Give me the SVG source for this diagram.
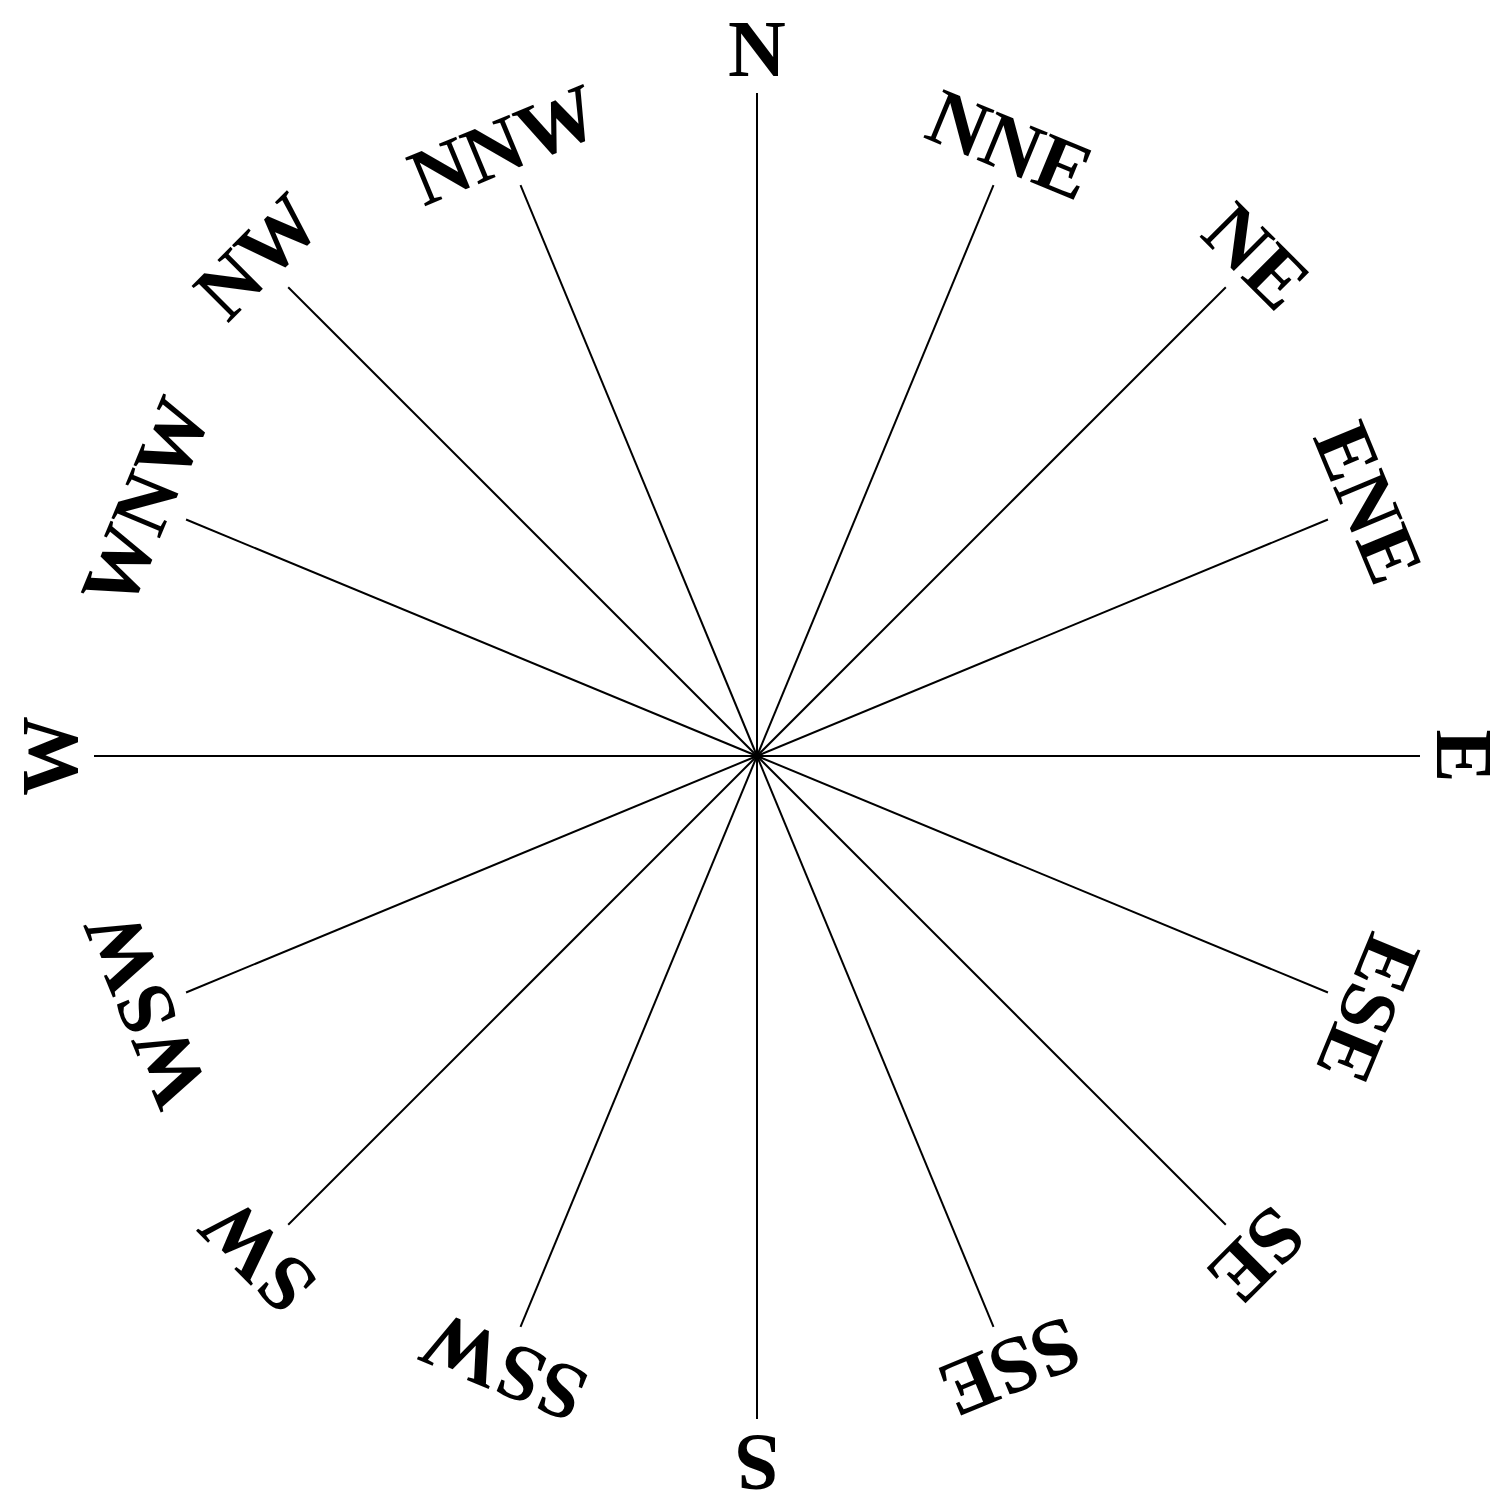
<svg xmlns="http://www.w3.org/2000/svg" width="1511" height="1512" viewBox="0 0 1511 1512">
<style>
.ray{stroke:#000;stroke-width:2;fill:none}
.lbl{font-family:"Liberation Serif","Times New Roman",serif;font-weight:bold;font-size:80px;text-anchor:middle;fill:#000}
</style>
<rect width="1511" height="1512" fill="#fff"/>
<defs>
<line id="r" x1="757" y1="756" x2="757" y2="93" class="ray"/>
<line id="q" x1="757" y1="756" x2="757" y2="138" class="ray"/>
</defs>
<g id="connectors">
<use href="#r" transform="rotate(0 757 756)"/>
<use href="#q" transform="rotate(22.5 757 756)"/>
<use href="#r" transform="rotate(45 757 756)"/>
<use href="#q" transform="rotate(67.5 757 756)"/>
<use href="#r" transform="rotate(90 757 756)"/>
<use href="#q" transform="rotate(112.5 757 756)"/>
<use href="#r" transform="rotate(135 757 756)"/>
<use href="#q" transform="rotate(157.5 757 756)"/>
<use href="#r" transform="rotate(180 757 756)"/>
<use href="#q" transform="rotate(202.5 757 756)"/>
<use href="#r" transform="rotate(225 757 756)"/>
<use href="#q" transform="rotate(247.5 757 756)"/>
<use href="#r" transform="rotate(270 757 756)"/>
<use href="#q" transform="rotate(292.5 757 756)"/>
<use href="#r" transform="rotate(315 757 756)"/>
<use href="#q" transform="rotate(337.5 757 756)"/>
</g>
<g id="N" transform="rotate(0 757 756)"><text class="lbl" x="757" y="76">N</text></g>
<g id="NNE" transform="rotate(22.5 757 756)"><text class="lbl" x="757" y="121">NNE</text></g>
<g id="NE" transform="rotate(45 757 756)"><text class="lbl" x="757" y="76">NE</text></g>
<g id="ENE" transform="rotate(67.5 757 756)"><text class="lbl" x="757" y="121">ENE</text></g>
<g id="E" transform="rotate(90 757 756)"><text class="lbl" x="757" y="76">E</text></g>
<g id="ESE" transform="rotate(112.5 757 756)"><text class="lbl" x="757" y="121">ESE</text></g>
<g id="SE" transform="rotate(135 757 756)"><text class="lbl" x="757" y="76">SE</text></g>
<g id="SSE" transform="rotate(157.5 757 756)"><text class="lbl" x="757" y="121">SSE</text></g>
<g id="S" transform="rotate(180 757 756)"><text class="lbl" x="757" y="76">S</text></g>
<g id="SSW" transform="rotate(202.5 757 756)"><text class="lbl" x="757" y="121">SSW</text></g>
<g id="SW" transform="rotate(225 757 756)"><text class="lbl" x="757" y="76">SW</text></g>
<g id="WSW" transform="rotate(247.5 757 756)"><text class="lbl" x="757" y="121">WSW</text></g>
<g id="W" transform="rotate(270 757 756)"><text class="lbl" x="757" y="76">W</text></g>
<g id="WNW" transform="rotate(292.5 757 756)"><text class="lbl" x="757" y="121">WNW</text></g>
<g id="NW" transform="rotate(315 757 756)"><text class="lbl" x="757" y="76">NW</text></g>
<g id="NNW" transform="rotate(337.5 757 756)"><text class="lbl" x="757" y="121">NNW</text></g>
</svg>
